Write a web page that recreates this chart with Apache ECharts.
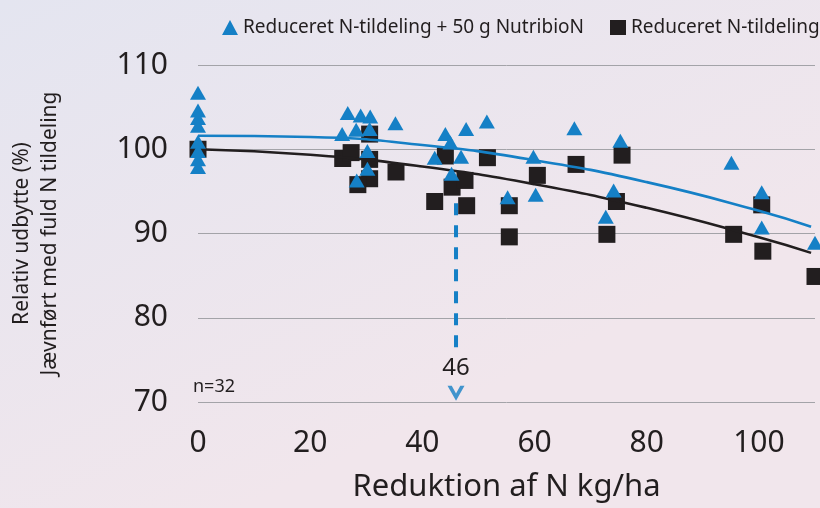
<!DOCTYPE html>
<html>
<head>
<meta charset="utf-8">
<script src="https://cdn.jsdelivr.net/npm/echarts@6/dist/echarts.min.js"></script>
<style>
html,body{margin:0;padding:0;}
#c{width:820px;height:508px;}
</style>
</head>
<body>
<div id="c"></div>
<script>
// ---- data ----
const seriesNames = ['Reduceret N-tildeling + 50 g NutribioN', 'Reduceret N-tildeling'];
const nutribionPoints = [
  [0,106.7],[0,104.6],[0,103.7],[0,102.8],[0,100.9],[0,99.8],[0,98.8],[0,97.9],
  [26.7,104.3],[29,104],[30.7,103.9],[35.2,103.1],[25.7,101.8],[28.2,102.3],[30.6,102.4],[30.2,99.8],[30.2,97.7],[28.3,96.3],
  [44.1,101.8],[47.8,102.4],[51.5,103.3],[45,100.8],[42.2,99],[46.9,99.1],[45.2,97.1],
  [67.1,102.5],[75.3,101],[59.8,99.1],[60.2,94.6],[55.2,94.3],[74.1,95.1],[72.7,92],
  [95.1,98.4],[100.5,94.9],[100.5,90.7],[110,88.9]
];
const reducedPoints = [
  [0,100],[25.8,98.9],[27.3,99.6],[30.6,101.8],[30.6,98.8],[35.3,97.3],[30.6,96.5],[28.5,95.8],
  [44.1,99.2],[51.6,99],[45.3,95.5],[47.6,96.3],[42.2,93.8],[47.9,93.3],
  [75.6,99.3],[67.4,98.2],[60.5,96.9],[55.5,93.3],[55.5,89.6],[74.6,93.8],[72.9,89.9],
  [95.5,89.9],[100.5,93.4],[100.7,87.9],[110,84.9]
];
const nutribionTrend = [[0,101.6],[20,101.45],[40,100.5],[60,98.7],[80,96.1],[100,92.7],[109.3,90.8]];
const reducedTrend = [[0,100],[20,99.35],[40,97.95],[60,95.85],[80,93.05],[100,89.55],[109.3,87.7]];
const thresholdX = 46;
const thresholdLine = [[thresholdX,93.6],[thresholdX,76.1]];
const thresholdArrow = [[thresholdX,71.05]];
const thresholdLabel = [[thresholdX,74.0]];
const sampleNote = 'n=32';
const xAxisName = 'Reduktion af N kg/ha';
const yAxisName = 'Relativ udbytte (%)\nJævnført med fuld N tildeling';

const BLUE = '#1580c6';
const DARK = '#221e1f';
const FONT = 'Noto Sans';

const chart = echarts.init(document.getElementById('c'), null, {renderer:'canvas'});
chart.setOption({
  backgroundColor: {
    type:'linear', x:0, y:0, x2:0.3, y2:1,
    colorStops:[{offset:0,color:'#e4e5f0'},{offset:1,color:'#f1e6ec'}]
  },
  textStyle:{fontFamily:FONT},
  animation:false,
  grid:{left:192, right:5, top:65, bottom:101},
  legend:{
    left:217, top:13, width:700, itemGap:26, itemWidth:16, itemHeight:15,
    textStyle:{fontFamily:FONT, fontSize:19, color:DARK},
    data:seriesNames
  },
  xAxis:{
    type:'value', min:0, max:110, interval:20,
    axisLine:{show:false}, axisTick:{show:false}, splitLine:{show:false},
    axisLabel:{fontFamily:FONT, fontSize:30, color:DARK, margin:26, showMaxLabel:false},
    name:xAxisName, nameLocation:'middle', nameGap:70,
    nameTextStyle:{fontFamily:FONT, fontSize:31, color:DARK}
  },
  yAxis:{
    type:'value', min:70, max:110, interval:10,
    axisLine:{show:false}, axisTick:{show:false},
    splitLine:{lineStyle:{color:'#a3a3a8', width:1}},
    axisLabel:{fontFamily:FONT, fontSize:30, color:DARK, margin:30},
    name:yAxisName, nameLocation:'middle', nameGap:134,
    nameTextStyle:{fontFamily:FONT, fontSize:21, lineHeight:28, color:DARK}
  },
  graphic:[{
    type:'text', left:193, top:378,
    style:{text:sampleNote, font:'18px "Noto Sans"', fill:DARK}
  }],
  series:[
    {
      name:seriesNames[0], type:'scatter', data:nutribionPoints,
      symbol:'triangle', symbolSize:[16,14], z:5,
      itemStyle:{color:BLUE, opacity:1}
    },
    {
      name:seriesNames[1], type:'scatter', data:reducedPoints,
      symbol:'rect', symbolSize:17, z:2,
      itemStyle:{color:DARK, opacity:1}
    },
    {
      type:'line', data:nutribionTrend, smooth:true, symbol:'none', z:3,
      lineStyle:{color:BLUE, width:2.6}
    },
    {
      type:'line', data:reducedTrend, smooth:true, symbol:'none', z:3,
      lineStyle:{color:DARK, width:2.6}
    },
    {
      type:'line', data:thresholdLine, symbol:'none', z:3,
      lineStyle:{color:BLUE, width:4, type:[12,10]}
    },
    {
      type:'scatter', data:thresholdArrow, z:3,
      symbol:'path://M0,0 L5,0 L10,8.5 L15,0 L20,0 L10,16 Z', symbolSize:[17,15],
      itemStyle:{color:BLUE}
    },
    {
      type:'scatter', data:thresholdLabel, symbolSize:2, z:6,
      itemStyle:{color:'rgba(0,0,0,0)'},
      label:{show:true, position:'inside', formatter:String(thresholdX),
        fontFamily:FONT, fontSize:24, color:DARK, textBorderWidth:0, opacity:1}
    }
  ]
});
</script>
</body>
</html>
